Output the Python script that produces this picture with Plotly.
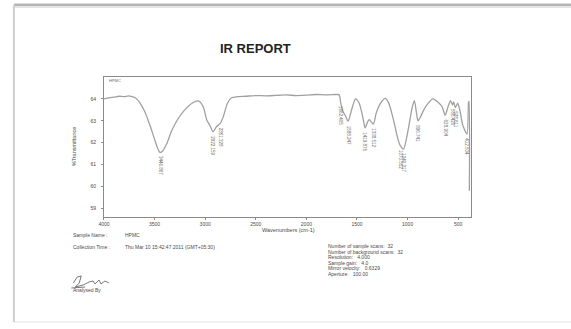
import plotly.graph_objects as go

# FT-IR spectrum of HPMC: wavenumber (cm-1) vs %Transmittance
wavenumber = [
    4000, 3950, 3900, 3850, 3800, 3760, 3720, 3690, 3650, 3600, 3550, 3500,
    3470, 3446.867, 3420, 3380, 3330, 3280, 3210, 3130, 3064, 3020, 2985,
    2950, 2922.159, 2890, 2851.328, 2820, 2780, 2740, 2680, 2600, 2500,
    2400, 2300, 2200, 2100, 2000, 1900, 1800, 1700, 1675, 1662.405, 1640,
    1612, 1588.247, 1550, 1514, 1478, 1440, 1419.876, 1395, 1378, 1338.512,
    1310, 1270, 1222, 1190, 1140, 1095, 1070.552, 1040.317, 1000, 975, 955,
    933, 912, 896.741, 870, 840, 800, 750, 700, 660, 628.904, 600, 575,
    556.420, 545, 528.611, 505, 480, 455, 412.504, 398, 393, 390,
]
transmittance = [
    64.00, 64.05, 64.08, 64.12, 64.10, 64.14, 64.10, 64.05, 63.85, 63.45, 62.85, 62.15,
    61.75, 61.55, 61.62, 61.95, 62.55, 63.00, 63.45, 63.80, 63.90, 63.65, 63.05,
    62.75, 62.50, 62.72, 62.88, 63.20, 63.80, 64.05, 64.10, 64.12, 64.15,
    64.14, 64.16, 64.18, 64.15, 64.17, 64.20, 64.18, 64.20, 64.18, 63.85, 63.45,
    63.20, 62.98, 63.55, 64.00, 63.80, 63.10, 62.68, 62.95, 63.05, 62.85,
    63.35, 63.78, 64.02, 63.85, 63.05, 62.15, 61.85, 61.70, 62.45, 63.10, 63.60,
    63.92, 63.35, 63.00, 63.20, 63.50, 63.78, 64.00, 63.85, 63.65, 63.25, 63.65, 63.92,
    63.72, 63.86, 63.60, 63.80, 63.40, 62.80, 62.40, 63.85, 63.90, 59.80,
]
# wavenumbers marked with a peak label
peak_labels = [3446.867, 2922.159, 2851.328, 1662.405, 1588.247, 1419.876,
               1338.512, 1070.552, 1040.317, 896.741, 628.904, 556.420,
               528.611, 412.504]

x_ticks = [4000, 3500, 3000, 2500, 2000, 1500, 1000, 500]
y_ticks = [59, 60, 61, 62, 63, 64]

sample_info = [("Sample Name :", "HPMC"),
               ("Collection Time :", "Thu Mar 10 15:42:47 2011 (GMT+05:30)")]
scan_info = ["Number of sample scans:  32",
             "Number of background scans:  32",
             "Resolution:   4.000",
             "Sample gain:   4.0",
             "Mirror velocity:   0.6329",
             "Aperture:   100.00"]

W, H = 571, 329
FONT = "Liberation Sans, Arial, sans-serif"
TXT = "#4a4a4a"


def px(x):
    return x / W


def py(y):
    return 1 - y / H


fig = go.Figure()
fig.add_trace(go.Scatter(
    x=wavenumber, y=transmittance, mode="lines",
    line=dict(color="#a0a0a0", width=1.3, shape="spline", smoothing=0.7),
    hoverinfo="skip", showlegend=False,
))

annotations = []
# peak labels, written vertically under each band
for wn in peak_labels:
    t = transmittance[wavenumber.index(wn)]
    annotations.append(dict(
        x=wn, y=t, xref="x", yref="y", text=f"{wn:.3f}", showarrow=False,
        textangle=90, yanchor="top", xanchor="center", yshift=-2,
        font=dict(family=FONT, size=4.5, color="#6a6a6a"),
    ))

annotations.append(dict(x=px(252), y=py(48), xref="paper", yref="paper",
                        text="<b>IR REPORT</b>", showarrow=False,
                        xanchor="center", yanchor="middle",
                        font=dict(family=FONT, size=13, color="#222")))
annotations.append(dict(x=px(102), y=py(76), xref="paper", yref="paper",
                        text="HPMC", showarrow=False, xanchor="left", yanchor="top",
                        font=dict(family=FONT, size=4, color="#666")))
annotations.append(dict(x=px(285), y=py(229.5), xref="paper", yref="paper",
                        text="Wavenumbers (cm-1)", showarrow=False,
                        yanchor="middle",
                        font=dict(family=FONT, size=5.5, color=TXT)))
annotations.append(dict(x=px(69), y=py(146), xref="paper", yref="paper",
                        text="%Transmittance", showarrow=False, textangle=-90,
                        xanchor="center", yanchor="middle",
                        font=dict(family=FONT, size=5.5, color=TXT)))

for i, (k, v) in enumerate(sample_info):
    yy = 240 + 12 * i
    annotations.append(dict(x=px(66), y=py(yy), xref="paper", yref="paper",
                            text=k, showarrow=False, xanchor="left",
                            font=dict(family=FONT, size=5, color=TXT)))
    annotations.append(dict(x=px(118), y=py(yy), xref="paper", yref="paper",
                            text=v, showarrow=False, xanchor="left",
                            font=dict(family=FONT, size=5, color=TXT)))

for i, line in enumerate(scan_info):
    annotations.append(dict(x=px(323), y=py(251 + 5.6 * i), xref="paper", yref="paper",
                            text=line, showarrow=False, xanchor="left",
                            font=dict(family=FONT, size=5, color=TXT)))

annotations.append(dict(x=px(66), y=py(295), xref="paper", yref="paper",
                        text="Analysed By", showarrow=False, xanchor="left",
                        font=dict(family=FONT, size=5, color=TXT)))

shapes = [
    # page edge with soft shadow
    dict(type="line", xref="paper", yref="paper", x0=px(8), x1=1, y0=py(5), y1=py(5),
         line=dict(color="#b5b5b5", width=3)),
    dict(type="line", xref="paper", yref="paper", x0=px(8), x1=1, y0=py(7), y1=py(7),
         line=dict(color="#e4e4e4", width=2)),
    dict(type="line", xref="paper", yref="paper", x0=px(8), x1=px(8), y0=py(5), y1=py(322),
         line=dict(color="#cfcfcf", width=2)),
    dict(type="line", xref="paper", yref="paper", x0=px(8), x1=1, y0=py(322), y1=py(322),
         line=dict(color="#e2e2e2", width=1)),
]

# handwritten signature
sig = [(68, 283), (72, 277), (76, 276), (74, 283), (70, 287), (78, 285),
       (84, 282), (88, 281), (90, 284), (94, 280), (96, 284), (100, 281),
       (104, 283)]
path = "M " + " L ".join(f"{px(a):.4f},{py(b):.4f}" for a, b in sig)
shapes.append(dict(type="path", xref="paper", yref="paper", path=path,
                   line=dict(color="#555", width=0.8)))
shapes.append(dict(type="line", xref="paper", yref="paper", x0=px(66), x1=px(80),
                   y0=py(288), y1=py(287), line=dict(color="#555", width=0.8)))

axis_common = dict(showgrid=False, zeroline=False, showline=True, mirror=True,
                   linecolor="#8a8a8a", linewidth=1, ticks="outside", ticklen=2,
                   tickcolor="#8a8a8a",
                   tickfont=dict(family=FONT, size=5, color=TXT))

fig.update_layout(
    width=W, height=H, margin=dict(l=0, r=0, t=0, b=0),
    paper_bgcolor="white", plot_bgcolor="white",
    xaxis=dict(domain=[px(99), px(470)], range=[4000, 373], tickvals=x_ticks,
               ticklabelstandoff=0, **axis_common),
    yaxis=dict(domain=[py(217), py(77)], range=[58.6, 65.0], tickvals=y_ticks,
               ticklabelstandoff=4, **axis_common),
    annotations=annotations, shapes=shapes, showlegend=False,
)

fig.write_html("out.html")
